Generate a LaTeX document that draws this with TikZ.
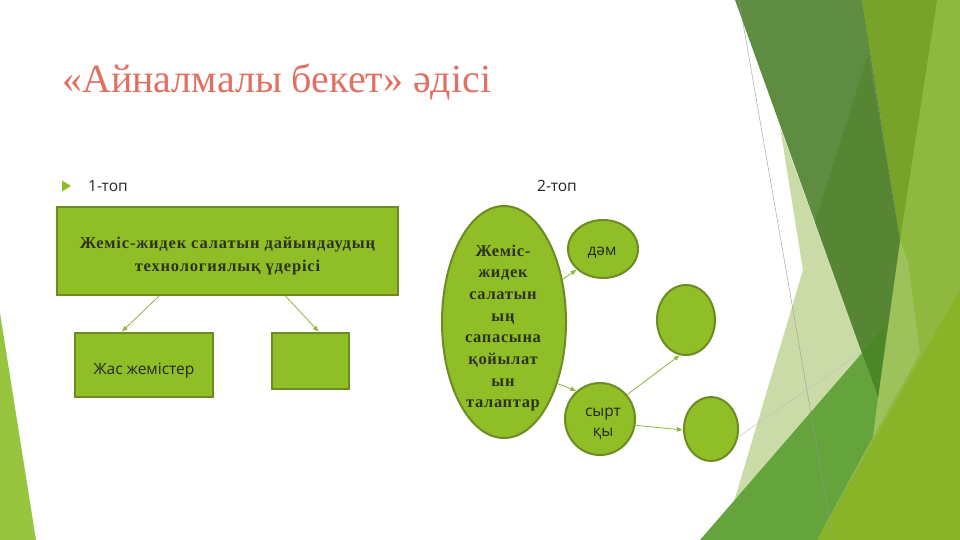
\documentclass[tikz,border=0pt]{standalone}
\usepackage{fontspec}
\setmainfont{Liberation Serif}
\newfontfamily\sansf{Open Sans}
\newfontfamily\serifwide[LetterSpace=5]{Liberation Serif}
\newfontfamily\serifmid[LetterSpace=4]{Liberation Serif}
\usetikzlibrary{shapes.geometric,arrows.meta}
\definecolor{boxfill}{RGB}{143,190,38}
\definecolor{boxline}{RGB}{108,140,34}
\definecolor{titlec}{RGB}{226,112,98}
\definecolor{txtdark}{RGB}{45,50,35}
\definecolor{arrowc}{RGB}{140,182,60}
\definecolor{bgright}{RGB}{142,185,62}
\definecolor{bgolive}{RGB}{120,162,40}
\definecolor{bglight}{RGB}{157,194,92}
\definecolor{bgbright}{RGB}{137,180,40}
\definecolor{bgpale}{RGB}{203,219,168}
\definecolor{bgdark}{RGB}{94,140,64}
\definecolor{bgdarker}{RGB}{86,134,52}
\definecolor{bgdeep}{RGB}{75,135,38}
\definecolor{bgmid}{RGB}{101,163,61}
\definecolor{bulletc}{RGB}{140,190,40}
\begin{document}
\begin{tikzpicture}[x=1pt,y=-1pt,
  greenbox/.style={draw=boxline, line width=2.5pt, fill=boxfill, inner sep=0pt},
  greenoval/.style={ellipse, draw=boxline, line width=2pt, fill=boxfill, inner sep=0pt},
  sanslabel/.style={font=\sansf\fontsize{15.5}{20}\selectfont, text=black!85, inner sep=0pt},
  link/.style={draw=arrowc, line width=0.8pt, -{Latex[length=6pt,width=5pt]}}]
\useasboundingbox (0,0) rectangle (960,540);
\fill[white] (0,0) rectangle (960,540);
% ---- decoration right
\fill[bgright] (862,0) -- (960,0) -- (960,540) -- (817,540) -- (873,437) -- (878,397) -- (900,240) -- cycle;
\fill[bgolive] (862,0) -- (937,0) -- (900,240) -- cycle;
\fill[bglight] (900,240) -- (908,262) -- (920,353) -- (873,437) -- (878,397) -- cycle;
\fill[bgbright] (817,540) -- (960,290) -- (960,540) -- cycle;
\fill[bgpale] (780,127) -- (862,353) -- (733,505) -- (803,270) -- cycle;
\fill[bgdark] (735,0) -- (862,0) -- (900,240) -- (878,397) -- (862,353) -- cycle;
\fill[bgdarker] (868,55) -- (900,240) -- (878,397) -- (862,353) -- (815,222) -- cycle;
\fill[bgdeep] (862,353) -- (887,323) -- (878,397) -- cycle;
\fill[bgmid] (862,353) -- (878,397) -- (873,437) -- (817,540) -- (700,540) -- cycle;
\draw[black!40, line width=0.4pt] (739,0) -- (833,540);
\draw[black!25, line width=0.4pt] (738,437) -- (862,352);
% ---- decoration left
\fill[bulletc!90!white] (0,313) -- (36,540) -- (0,540) -- cycle;
% ---- title
\node[anchor=base west, inner sep=0pt, text=titlec, font=\fontsize{40}{48}\selectfont] (title) at (62,93) {«Айналмалы бекет» әдісі};
% ---- bullet and groups
\fill[bulletc] (62,180.5) -- (71,186) -- (62,191.5) -- cycle;
\node[anchor=base west, sanslabel] (g1) at (88,191.5) {1-топ};
\node[anchor=base west, sanslabel] (g2) at (537,191.5) {2-топ};
% ---- group 1
\node[greenbox, minimum width=341pt, minimum height=88pt] (main) at (227.5,251) {};
\node[inner sep=0pt, font=\serifwide\fontsize{16.5}{23}\selectfont\bfseries, text=txtdark, align=center] (maintext) at (227.5,256.5)
  {Жеміс-жидек салатын дайындаудың\\технологиялық үдерісі};
\node[greenbox, minimum width=138pt, minimum height=64pt] (young) at (144,365) {};
\node[anchor=base, sanslabel] (youngtext) at (144,374) {Жас жемістер};
\node[greenbox, minimum width=77pt, minimum height=56pt] (empty1) at (310.5,361) {};
\draw[link] ([xshift=103pt]main.south west) -- ([xshift=48pt]young.north west);
\draw[link] ([xshift=230pt]main.south west) -- ([xshift=48pt]empty1.north west);
% ---- group 2
\node[greenoval, minimum width=124pt, minimum height=232pt] (req) at (504,322) {};
\node[inner sep=0pt, font=\serifmid\fontsize{16.5}{21.7}\selectfont\bfseries, text=txtdark, align=center] (reqtext) at (503,328)
  {Жеміс-\\жидек\\салатын\\ың\\сапасына\\қойылат\\ын\\талаптар};
\node[greenoval, minimum width=70pt, minimum height=58pt] (taste) at (603,249) {};
\node[anchor=base, sanslabel] (tastetext) at (602,255) {дәм};
\node[greenoval, minimum width=58pt, minimum height=70pt] (o2) at (686,320) {};
\node[greenoval, minimum width=70pt, minimum height=72pt] (outer) at (600,419) {};
\node[sanslabel, align=center, font=\sansf\fontsize{15.5}{20}\selectfont] (outertext) at (603,424) {сырт\\қы};
\node[greenoval, minimum width=54pt, minimum height=64pt] (o4) at (711,429) {};
\draw[link] (req.36) -- (taste.218);
\draw[link] (req.-49) -- (outer.130);
\draw[link] (outer.42) -- (o2.-100);
\draw[link] (outer.-10) -- (o4.182);
\end{tikzpicture}
\end{document}
